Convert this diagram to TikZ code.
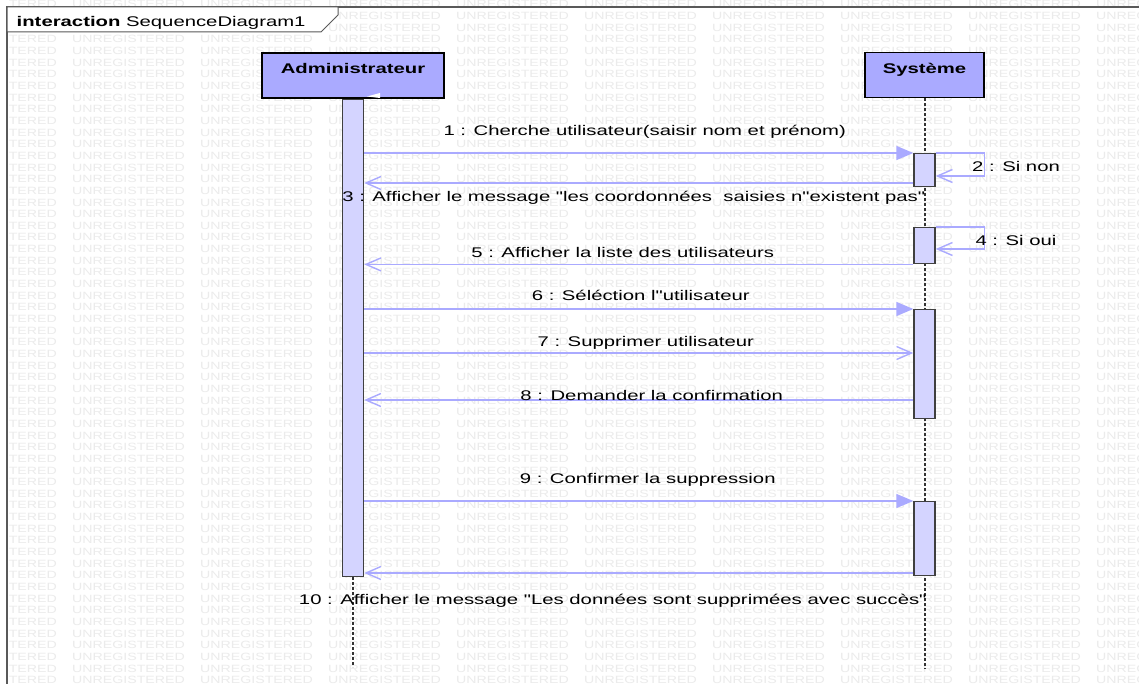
\documentclass[tikz,border=0pt]{standalone}
\usepackage{fontspec}
\setmainfont{Liberation Sans}[FakeStretch=1.45,Ligatures=TeXOff]
\newfontfamily\wmfont{Liberation Sans}[FakeStretch=1.35]
\usetikzlibrary{arrows.meta,calc}
\definecolor{actorfill}{RGB}{170,170,255}
\definecolor{barfill}{RGB}{212,212,255}
\definecolor{msgline}{RGB}{170,170,255}
\tikzset{
  actor/.style={draw=black,line width=1.5pt,fill=actorfill,minimum height=45pt,inner sep=0pt,
    font=\fontsize{14}{16}\selectfont\bfseries,text height=10pt,text depth=13pt},
  actbar/.style={draw=black!75,line width=1.4pt,fill=barfill,minimum width=21pt,inner sep=0pt,anchor=north},
  lifeline/.style={draw=black!80,line width=2pt,dash pattern=on 2.5pt off 2.5pt},
  msg/.style={draw=msgline,line width=1.4pt},
  call/.style={msg,-{Triangle[length=17pt,width=14pt]}},
  reply/.style={msg,-{Straight Barb[length=15pt,width=13pt]}},
  lbl/.style={font=\fontsize{14}{16}\selectfont,inner sep=0pt,text=black,text height=10pt,text depth=3pt},
  wm/.style={font=\wmfont\fontsize{10.5}{11}\selectfont,text=black!8,inner sep=0pt,anchor=base west}
}

\begin{document}
\begin{tikzpicture}[x=1pt,y=-1pt]
  \useasboundingbox (0,0) rectangle (1139,684);
  \fill[white] (0,0) rectangle (1139,684);
  % watermark
  \begin{scope}
    \clip (8,0) rectangle (1139,684);
    \foreach \i in {0,...,58}
      \foreach \j in {-1,...,8}
        \node[wm] (wm-\i-\j) at (72+128*\j, 8+11.65*\i) {UNREGISTERED};
  \end{scope}
  % frame
  \draw[black!65,line width=1.2pt] (1145,7) -- (7,7) -- (7,690);
  \filldraw[fill=white,draw=black!65,line width=1pt] (7,7) -- (338,7) -- (338,15) -- (321,32) -- (7,32) -- cycle;
  \node[anchor=base west,inner sep=0pt,font=\fontsize{14}{16}\selectfont] (title) at (16.5,26.5) {\textbf{interaction} SequenceDiagram1};

  % lifelines
  \node[actor,minimum width=182pt] (admin) at (353,75.5) {Administrateur};
  \node[actor,minimum width=119pt] (sys) at (924.5,75) {Système};
  \fill[white] (367,96.5) -- (380,93) -- (380,98) -- cycle;
  \draw[lifeline] (sys.south) -- ++(0,571);
  \node[actbar,minimum height=477pt] (abar) at (admin.south) {};
  \draw[lifeline] (abar.south) -- ++(0,90);
  \node[actbar,minimum height=33pt]  (s1) at (sys.south |- 0,153) {};
  \node[actbar,minimum height=36pt]  (s2) at (sys.south |- 0,227) {};
  \node[actbar,minimum height=109pt] (s3) at (sys.south |- 0,309) {};
  \node[actbar,minimum height=74pt]  (s4) at (sys.south |- 0,501) {};

  % messages
  \foreach \n/\y in {1/153,3/183,7/353,8/400,10/573}
    \coordinate (r\n) at (0,\y);
  \draw[call]  (abar.east |- r1) -- (s1.west |- r1) node[lbl,pos=0.5,yshift=21pt,xshift=6pt] (l1) {1 : Cherche utilisateur(saisir nom et prénom)};
  \draw[reply] (s1.north east) -- ++(49,0) -- ++(0,23) -- ++(-49,0);
  \node[lbl] (l2) at (1016,168) {2 : Si non};
  \draw[reply] (s1.west |- r3) -- (abar.east |- r3) node[lbl,pos=0.5,yshift=-15pt,xshift=-5pt] (l3) {3 : Afficher le message "les coordonnées\ \ saisies n"existent pas"};
  \draw[reply] (s2.north east) -- ++(49,0) -- ++(0,22) -- ++(-49,0);
  \node[lbl] (l4) at (1016,242) {4 : Si oui};
  \draw[reply] (s2.south west) -- (abar.east |- s2.south) node[lbl,pos=0.5,yshift=10pt,xshift=-16pt] (l5) {5 : Afficher la liste des utilisateurs};
  \draw[call]  (abar.east |- s3.north) -- (s3.north west) node[lbl,pos=0.5,yshift=12pt,xshift=2pt] (l6) {6 : Séléction l"utilisateur};
  \draw[reply] (abar.east |- r7) -- (s3.west |- r7) node[lbl,pos=0.5,yshift=10pt,xshift=7pt] (l7) {7 : Supprimer utilisateur};
  \draw[reply] (s3.west |- r8) -- (abar.east |- r8) node[lbl,pos=0.5,yshift=3pt,xshift=13pt] (l8) {8 : Demander la confirmation};
  \draw[call]  (abar.east |- s4.north) -- (s4.north west) node[lbl,pos=0.5,yshift=21pt,xshift=9pt] (l9) {9 : Confirmer la suppression};
  \draw[reply] (s4.west |- r10) -- (abar.east |- r10) node[lbl,pos=0.5,yshift=-28pt,xshift=-26pt] (l10) {10 : Afficher le message "Les données sont supprimées avec succès"};
\end{tikzpicture}
\end{document}
